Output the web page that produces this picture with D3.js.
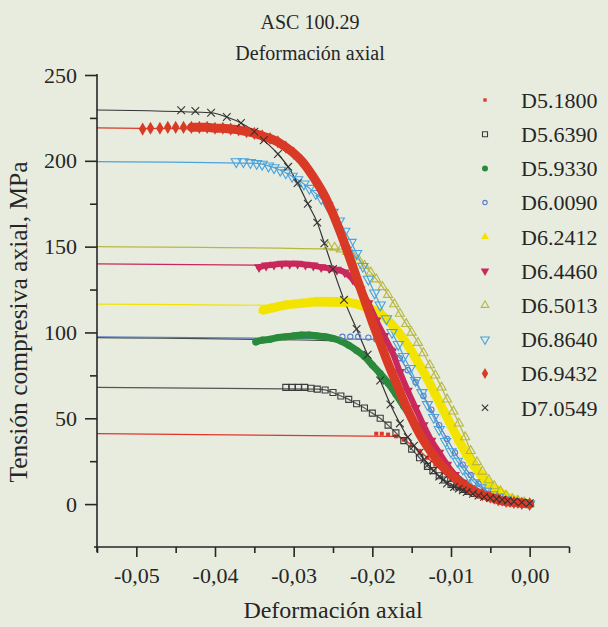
<!DOCTYPE html>
<html><head><meta charset="utf-8">
<script src="https://cdn.jsdelivr.net/npm/d3@7"></script>
<style>
html,body{margin:0;padding:0;background:#e8ecdf;}
svg{display:block;font-family:"Liberation Serif","Times New Roman",serif;}
</style></head><body>
<svg id="c" width="608" height="627"></svg>
<script>
// ---------- data ----------
const titleLines = ["ASC 100.29", "Deformación axial"];
const xTitle = "Deformación axial";
const yTitle = "Tensión compresiva axial, MPa";
const xMajorTicks = [-0.05, -0.04, -0.03, -0.02, -0.01, 0];
const xMinorTicks = [-0.055, -0.045, -0.035, -0.025, -0.015, -0.005, 0.005];
const yMajorTicks = [0, 50, 100, 150, 200, 250];
const yMinorTicks = [25, 75, 125, 175, 225];
const seriesNames = ["D5.1800","D5.6390","D5.9330","D6.0090","D6.2412","D6.4460","D6.5013","D6.8640","D6.9432","D7.0549"];
const plateaus = [41, 68, 97, 97.5, 116.5, 140, 150, 199.5, 219.2, 229.6];

const D5_1800 = [[-0.0195,41],[-0.0188,41],[-0.018,40.5],[-0.017,39.5],[-0.016,37.5],[-0.015,34.5],[-0.014,31],[-0.013,27],[-0.012,23],[-0.011,19],[-0.010,15.5],[-0.009,12.5],[-0.008,9.5],[-0.007,7],[-0.006,5],[-0.005,3.5],[-0.004,2.5],[-0.003,1.5],[-0.002,1],[-0.001,0.5],[0,0]];
const D5_6390 = [[-0.031,68],[-0.0302,68],[-0.0294,68],[-0.0286,68],[-0.0278,67.5],[-0.027,67],[-0.026,66.5],[-0.025,65],[-0.024,63],[-0.023,61],[-0.022,58.5],[-0.021,56],[-0.020,53],[-0.019,50],[-0.018,46],[-0.017,41.5],[-0.016,37],[-0.015,32],[-0.014,27],[-0.013,22],[-0.0123,19.5],[-0.0115,16.5],[-0.0108,14],[-0.010,11.5],[-0.0093,10],[-0.0085,8.5],[-0.0078,7.3],[-0.007,6.2],[-0.0063,5.3],[-0.0055,4.5],[-0.0048,3.8],[-0.004,3.1],[-0.0033,2.5],[-0.0025,1.9],[-0.0018,1.3],[-0.001,0.8],[0,0.3]];
const D5_9330 = [[-0.0348,94.5],[-0.034,95.5],[-0.033,96],[-0.032,97],[-0.031,97.5],[-0.030,98],[-0.029,98.5],[-0.028,98.5],[-0.027,98],[-0.026,97.5],[-0.025,96.5],[-0.024,95],[-0.023,92.5],[-0.022,89.5],[-0.021,86],[-0.020,81],[-0.019,76],[-0.018,70.5],[-0.017,64],[-0.016,57],[-0.015,50],[-0.014,43],[-0.013,36],[-0.012,29.5],[-0.011,24],[-0.010,19],[-0.009,14.5],[-0.008,11],[-0.007,8],[-0.006,5.5],[-0.005,4],[-0.004,2.8],[-0.003,1.8],[-0.002,1],[-0.001,0.5],[0,0]];
const D6_0090 = [[-0.0238,97.5],[-0.0228,97.5],[-0.0218,97.5],[-0.0205,97],[-0.0195,96],[-0.0185,94],[-0.0175,90],[-0.0165,85],[-0.0155,78],[-0.0145,71],[-0.0135,63],[-0.0125,55],[-0.0115,46],[-0.0105,38],[-0.0095,30],[-0.0085,23],[-0.0075,17],[-0.0065,12],[-0.0055,8],[-0.0045,5],[-0.0035,3],[-0.0025,1.8],[-0.0015,0.8],[0,0]];
const D6_2412 = [[-0.0339,113],[-0.033,114],[-0.032,115],[-0.031,116],[-0.030,116.5],[-0.029,117],[-0.028,117.5],[-0.027,118],[-0.026,118],[-0.025,118],[-0.024,118],[-0.023,117.5],[-0.022,116.5],[-0.021,115],[-0.020,113.5],[-0.019,111],[-0.018,107],[-0.017,102],[-0.016,96],[-0.015,89],[-0.014,81],[-0.013,73],[-0.012,64],[-0.011,55],[-0.010,46],[-0.009,37],[-0.008,29],[-0.007,22],[-0.006,16],[-0.005,11],[-0.004,7.5],[-0.003,4.5],[-0.002,2.5],[-0.001,1],[0,0]];
const D6_4460 = [[-0.0344,138],[-0.0335,139],[-0.0325,139.5],[-0.0315,140],[-0.0305,140],[-0.0295,140],[-0.0285,139.5],[-0.0275,139],[-0.0265,138],[-0.0255,137.5],[-0.0245,136.5],[-0.0235,135],[-0.0225,131],[-0.0215,125],[-0.0205,117],[-0.0195,107],[-0.0185,98],[-0.0175,89],[-0.0165,77],[-0.0155,66],[-0.0145,56],[-0.0135,46],[-0.0125,37],[-0.0115,30],[-0.0105,23],[-0.0095,17],[-0.0085,12.5],[-0.0075,9],[-0.0065,6.5],[-0.0055,4.5],[-0.0045,3],[-0.0035,2],[-0.0025,1.2],[-0.0015,0.6],[0,0]];
const D6_5013 = [[-0.0256,150],[-0.0248,149.5],[-0.024,148.5],[-0.0232,147],[-0.0225,145],[-0.0217,142],[-0.021,139],[-0.0202,135],[-0.0195,131],[-0.0187,126.5],[-0.018,122],[-0.0172,116.5],[-0.0165,111],[-0.0157,105],[-0.015,100],[-0.0142,94],[-0.0135,88],[-0.0127,81],[-0.012,75],[-0.0112,68],[-0.0105,61],[-0.0097,54],[-0.009,47],[-0.0082,39],[-0.0075,31],[-0.0067,24.5],[-0.006,19],[-0.0052,14],[-0.0045,10.5],[-0.0037,7.5],[-0.003,5],[-0.0022,3],[-0.0015,2],[-0.0007,1],[0,0.5]];
const D6_8640 = [[-0.0373,199.5],[-0.0364,199.5],[-0.0355,199],[-0.0347,198.5],[-0.034,198],[-0.0332,197],[-0.0325,196],[-0.0317,194.5],[-0.031,193],[-0.0302,191],[-0.0295,189],[-0.0287,186.5],[-0.028,184],[-0.0272,181],[-0.0265,178],[-0.0257,174],[-0.025,170],[-0.0242,165],[-0.0235,159],[-0.0227,152.5],[-0.022,146],[-0.0212,138.5],[-0.0205,131],[-0.0197,123],[-0.019,116],[-0.0182,108],[-0.0175,100],[-0.0167,93],[-0.016,86],[-0.0152,79],[-0.0145,72],[-0.0137,65],[-0.013,58],[-0.0122,50.5],[-0.0115,43.5],[-0.0107,36.5],[-0.010,30.5],[-0.0092,25],[-0.0085,20.5],[-0.0077,16],[-0.007,12.5],[-0.0062,9.5],[-0.0055,7.5],[-0.0047,5.5],[-0.004,4],[-0.003,2.5],[-0.002,1.5],[-0.001,0.7],[0,0]];
const D6_9432 = [[-0.0492,218.5],[-0.0482,219],[-0.047,219],[-0.046,219.5],[-0.045,219.5],[-0.044,219.5],[-0.043,219.5],[-0.042,219.5],[-0.041,219.5],[-0.040,219],[-0.039,219],[-0.038,218.5],[-0.037,218],[-0.036,217],[-0.035,216],[-0.034,214.5],[-0.033,213],[-0.032,211],[-0.031,208],[-0.030,204.5],[-0.029,200],[-0.028,194],[-0.027,187],[-0.026,179],[-0.025,169],[-0.024,157.5],[-0.023,145],[-0.022,132],[-0.021,119],[-0.020,106],[-0.019,94],[-0.018,82],[-0.017,71],[-0.016,60],[-0.015,50],[-0.014,41],[-0.013,33.5],[-0.012,27],[-0.011,21.5],[-0.010,17],[-0.009,13],[-0.008,10],[-0.007,7.5],[-0.006,5.5],[-0.005,4],[-0.004,2.5],[-0.003,1.5],[-0.002,1],[-0.001,0.5],[0,0]];
const D7_0549 = [[-0.0443,229.5],[-0.0425,229],[-0.0405,228],[-0.0385,225.5],[-0.0367,222],[-0.035,217],[-0.0338,212],[-0.032,204],[-0.0307,196.5],[-0.0295,187],[-0.0282,175],[-0.027,164],[-0.0261,152],[-0.025,137],[-0.0236,119],[-0.022,102],[-0.0206,87],[-0.019,72],[-0.0177,58],[-0.0165,47],[-0.0155,39],[-0.0147,34],[-0.014,30],[-0.0134,26],[-0.0129,23],[-0.0122,19.5],[-0.0115,16],[-0.011,14],[-0.0105,12],[-0.0096,10],[-0.009,9],[-0.0085,8],[-0.008,7],[-0.0072,6],[-0.0065,5],[-0.0058,4.2],[-0.005,3.5],[-0.0042,3],[-0.0035,2.5],[-0.0028,2],[-0.002,1.5],[-0.001,1],[0,0.5]];

const seriesData = [D5_1800, D5_6390, D5_9330, D6_0090, D6_2412, D6_4460, D6_5013, D6_8640, D6_9432, D7_0549];

// ---------- styles ----------
const styles = [
  {color:"#e0352b", line:"#e0352b", sym:"square",  fill:true,  size:16, band:0},
  {color:"#3a3a3a", line:"#555555", sym:"square",  fill:false, size:36, band:0},
  {color:"#2a8a3c", line:"#404a40", sym:"circle",  fill:true,  size:40, band:7},
  {color:"#5a7cc8", line:"#5a7cc8", sym:"circle",  fill:false, size:22, band:0},
  {color:"#f2e400", line:"#f2e400", sym:"triangle",fill:true,  size:40, band:9},
  {color:"#c8285c", line:"#c8285c", sym:"triangleDown",fill:true, size:45, band:6},
  {color:"#b8b840", line:"#b8b840", sym:"triangle",fill:false, size:36, band:0},
  {color:"#4aa3dc", line:"#4aa3dc", sym:"triangleDown",fill:false, size:45, band:0},
  {color:"#d93a26", line:"#d93a26", sym:"diamond", fill:true,  size:50, band:9},
  {color:"#333333", line:"#333333", sym:"x",       fill:false, size:40, band:0}
];
const bandStart = [null,null,-0.0348,null,-0.0339,-0.0344,null,null,-0.043,null];

// ---------- chart ----------
const svg = d3.select("#c");
svg.append("rect").attr("width",608).attr("height",627).attr("fill","#e8ecdf");
const x = d3.scaleLinear().domain([-0.055, 0.005]).range([97, 569]);
const y = d3.scaleLinear().domain([-25, 250]).range([547, 75]);
const ink = "#262626";

const symType = s => ({square:d3.symbolSquare, circle:d3.symbolCircle, triangle:d3.symbolTriangle,
  triangleDown:d3.symbolTriangle, diamond:d3.symbolDiamond, x:(d3.symbolTimes||d3.symbolX||d3.symbolCross)})[s];

function drawMarker(g, st, px, py, scale){
  const p = d3.symbol().type(symType(st.sym)).size(st.size*(scale||1))();
  const el = g.append("path").attr("d", p)
    .attr("transform", `translate(${px},${py})` + (st.sym==="triangleDown" ? " rotate(180)" : ""));
  if (st.fill) el.attr("fill", st.color).attr("stroke","none");
  else el.attr("fill","none").attr("stroke", st.color).attr("stroke-width", 1.1);
}

const lineGen = d3.line().x(d=>x(d[0])).y(d=>y(d[1])).curve(d3.curveMonotoneX);

// fitted lines: flat at the plateau, then following the descending data
const gLines = svg.append("g");
seriesData.forEach((pts,i)=>{
  const P = plateaus[i];
  const iMax = d3.maxIndex(pts, d=>d[1]);
  const desc = pts.filter((d,k)=> k > iMax && d[1] <= P - 1);
  const full = [[-0.055, P]].concat(desc);
  gLines.append("path").attr("d", lineGen(full)).attr("fill","none")
    .attr("stroke", styles[i].line).attr("stroke-width", 1.2);
});

// dense marker bands + markers
const drawOrder = [0,1,2,3,4,6,5,7,8,9];
drawOrder.forEach(i=>{
  const st = styles[i], pts = seriesData[i];
  const g = svg.append("g");
  if (st.band > 0){
    const bpts = pts.filter(d=>d[0] >= bandStart[i]);
    g.append("path").attr("d", lineGen(bpts)).attr("fill","none")
      .attr("stroke", st.color).attr("stroke-width", st.band).attr("stroke-linecap","round");
  }
  pts.forEach(d=>drawMarker(g, st, x(d[0]), y(d[1])));
});

// axes
const gx = svg.append("g").attr("transform","translate(0,547)");
gx.call(d3.axisBottom(x).tickValues(xMajorTicks).tickSize(10).tickPadding(10)
  .tickFormat(d=>d3.format(".2f")(d).replace("\u2212","-").replace(".",",")));
gx.append("g").call(d3.axisBottom(x).tickValues(xMinorTicks).tickSize(6).tickFormat(""));
gx.selectAll(".domain").remove();
gx.append("line").attr("x1",94).attr("x2",569.5).attr("y1",0).attr("y2",0).attr("stroke",ink).attr("stroke-width",1.6);
gx.selectAll(".tick line").attr("stroke",ink).attr("stroke-width",1.6);
gx.selectAll(".tick text").attr("fill",ink).style("font-size","22px").style("font-family",'"Liberation Serif",serif');

const gy = svg.append("g").attr("transform","translate(97,0)");
gy.call(d3.axisLeft(y).tickValues(yMajorTicks).tickSize(12).tickPadding(8).tickFormat(d3.format("d")));
gy.append("g").call(d3.axisLeft(y).tickValues(yMinorTicks).tickSize(7).tickFormat(""));
gy.selectAll(".domain").remove();
gy.append("line").attr("x1",0).attr("x2",0).attr("y1",74).attr("y2",552).attr("stroke",ink).attr("stroke-width",1.6);
gy.selectAll(".tick line").attr("stroke",ink).attr("stroke-width",1.6);
gy.selectAll(".tick text").attr("fill",ink).style("font-size","22px").style("font-family",'"Liberation Serif",serif');

// titles
svg.append("text").attr("x",310).attr("y",29).attr("text-anchor","middle").attr("fill",ink)
  .style("font-size","20px").text(titleLines[0]);
svg.append("text").attr("x",310).attr("y",60).attr("text-anchor","middle").attr("fill",ink)
  .style("font-size","20px").text(titleLines[1]);
svg.append("text").attr("x",333).attr("y",618).attr("text-anchor","middle").attr("fill",ink)
  .style("font-size","24px").text(xTitle);
svg.append("text").attr("transform","translate(27,322) rotate(-90)").attr("text-anchor","middle").attr("fill",ink)
  .style("font-size","25.5px").text(yTitle);

// legend
const gl = svg.append("g");
seriesNames.forEach((name,i)=>{
  const cy = 100 + i*34.2;
  drawMarker(gl, styles[i], 485, cy, 0.7);
  gl.append("text").attr("x",521).attr("y",cy).attr("dy","0.35em").attr("fill",ink)
    .style("font-size","22px").text(name);
});
</script>
</body></html>
